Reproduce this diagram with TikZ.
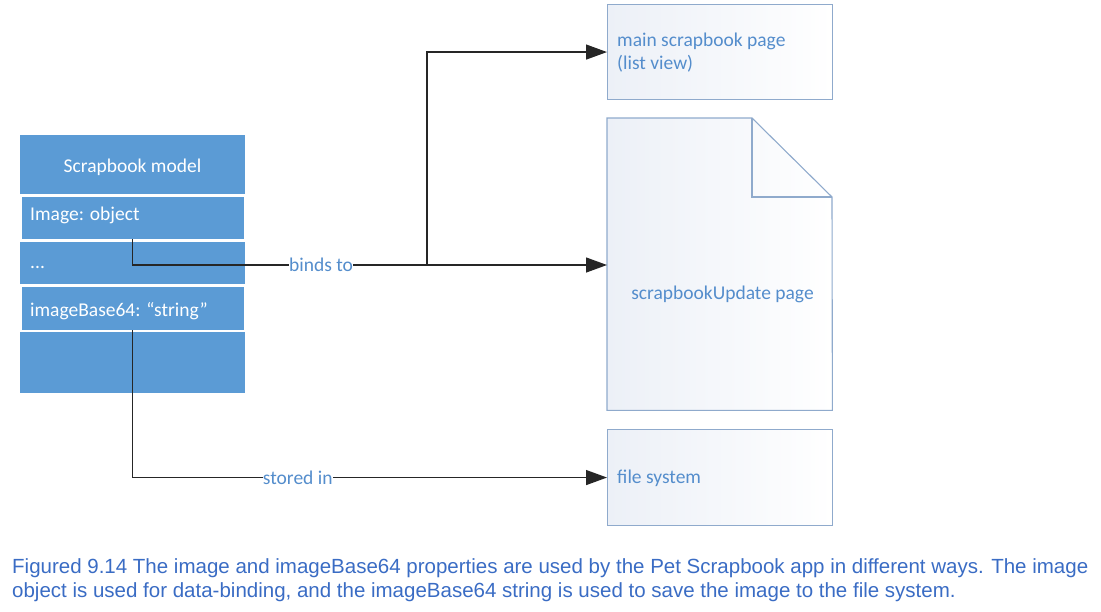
\documentclass[tikz,border=0pt]{standalone}
\usepackage{fontspec}
\setmainfont{Carlito}
\newfontfamily\capfont{Liberation Sans}
\usetikzlibrary{arrows.meta,calc}
\definecolor{modelblue}{RGB}{91,155,213}
\definecolor{textblue}{RGB}{84,141,204}
\definecolor{pageborder}{RGB}{143,170,204}
\definecolor{pagefill}{RGB}{236,240,247}
\definecolor{capblue}{RGB}{58,108,196}
\tikzset{
  modelpart/.style={fill=modelblue, draw=none, inner sep=0pt, anchor=north west},
  rowtext/.style={text=white, font=\fontsize{19.5}{22}\selectfont, anchor=base west, inner sep=0pt},
  pagebox/.style={draw=pageborder, line width=1.1pt, shading=axis, shading angle=135, left color=pagefill, right color=white, inner sep=0pt, anchor=north west},
  pagetext/.style={text=textblue, font=\fontsize{19.5}{23}\selectfont, inner sep=0pt},
  conn/.style={draw=black!85, line width=1.3pt},
  arrowconn/.style={conn, -{Triangle[length=21pt,width=15pt]}},
  connlabel/.style={fill=white, text=textblue, font=\fontsize{19.5}{22}\selectfont, inner sep=0.3pt},
  captext/.style={text=capblue, font=\capfont\fontsize{20.5}{24}\selectfont, anchor=base west, inner sep=0pt}
}
\begin{document}
\begin{tikzpicture}[x=1pt,y=-1pt]
\useasboundingbox (0,0) rectangle (1101,611);
% Scrapbook model
\node[modelpart, minimum width=225pt, minimum height=59pt] (head) at (20,135) {};
\node[text=white, font=\fontsize{19.5}{22}\selectfont, anchor=base, inner sep=0pt] (headtext) at (132.5,172) {Scrapbook model};
\node[modelpart, minimum width=222pt, minimum height=42pt] (img) at (21.5,197) {};
\node[rowtext] (imgtext) at (30,220) {Image: object};
\node[modelpart, minimum width=225pt, minimum height=42pt] (dots) at (20,242) {};
\node[rowtext] (dotstext) at (30,268) {...};
\node[modelpart, minimum width=222pt, minimum height=43pt] (b64) at (21.5,287) {};
\node[rowtext] (b64text) at (30,316) {imageBase64: “string”};
\node[modelpart, minimum width=225pt, minimum height=61pt] (bottom) at (20,332) {};
% Pages
\node[pagebox, minimum width=225pt, minimum height=95pt] (main) at (607,4) {};
\node[pagetext, anchor=base west] (maintext1) at (617,46) {main scrapbook page};
\node[pagetext, anchor=base west] (maintext2) at (617,69) {(list view)};
\node[draw=none, minimum width=225pt, minimum height=292pt, inner sep=0pt, anchor=north west] (doc) at (607,118) {};
\path[draw=pageborder, line width=1.1pt, shading=axis, shading angle=135, left color=pagefill, right color=white]
  (doc.north west) -- (752,118) -- (832,197) -- (doc.south east) -- (doc.south west) -- cycle;
\draw[draw=pageborder, line width=1.1pt] (752,118) -- (752,197) -- (832,197);
\node[pagetext, anchor=base] (doctext) at (722.5,299) {scrapbookUpdate page};
\node[pagebox, minimum width=225pt, minimum height=96pt] (files) at (607,429) {};
\node[pagetext, anchor=base west] (filestext) at (617,483) {file system};
% Connectors
\coordinate (br) at (427,265);
\draw[conn] (img.south) |- node[connlabel, pos=0.82] (bindlabel) {binds to} (br);
\draw[arrowconn] (br) -- (br -| doc.west);
\draw[arrowconn] (br) |- (main.west);
\draw[arrowconn] (b64.south) |- node[connlabel, pos=0.674] (storelabel) {stored in} (files.west);
% Caption
\node[captext] (cap1) at (12,573) {Figured 9.14 The image and imageBase64 properties are used by the Pet Scrapbook app in different ways. The image};
\node[captext] (cap2) at (12,597) {object is used for data-binding, and the imageBase64 string is used to save the image to the file system.};
\end{tikzpicture}
\end{document}
